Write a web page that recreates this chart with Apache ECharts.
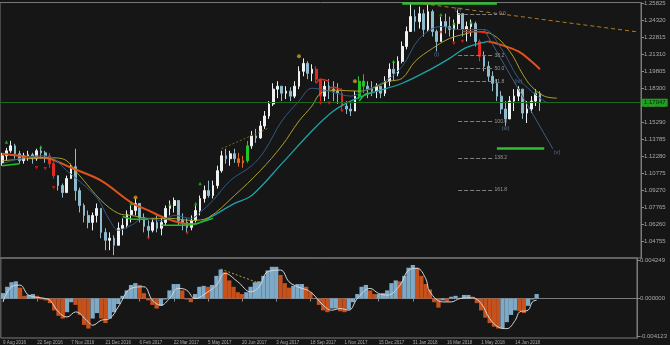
<!DOCTYPE html>
<html><head><meta charset="utf-8">
<script src="https://cdn.jsdelivr.net/npm/echarts@6.0.0/dist/echarts.min.js"></script>
<style>html,body{margin:0;padding:0;background:#161616;}#c{width:670px;height:345px;}</style>
</head><body><div id="c"></div>
<script>
// ---- time axis (one slot = 4 daily bars) ----
const tickLabels = ["9 Aug 2016","22 Sep 2016","7 Nov 2016","21 Dec 2016","6 Feb 2017","22 Mar 2017","5 May 2017","20 Jun 2017","3 Aug 2017","18 Sep 2017","1 Nov 2017","15 Dec 2017","31 Jan 2018","16 Mar 2018","1 May 2018","14 Jun 2018"];
const slotCount = 149;
const labelEvery = 8;

// ---- price candles ----
const openP = [1.1168,1.1230,1.1274,1.1318,1.1248,1.1186,1.1230,1.1239,1.1204,1.1274,
1.1256,1.1230,1.1160,1.1054,1.0966,1.0904,1.1028,1.1133,1.0922,1.0790,
1.0702,1.0640,1.0702,1.0764,1.0552,1.0482,1.0500,1.0438,1.0588,1.0614,
1.0711,1.0746,1.0808,1.0684,1.0605,1.0570,1.0640,1.0588,1.0640,1.0764,
1.0790,1.0834,1.0658,1.0640,1.0596,1.0658,1.0746,1.0852,1.0922,1.0878,
1.0966,1.1098,1.1230,1.1204,1.1248,1.1204,1.1168,1.1186,1.1318,1.1406,
1.1388,1.1494,1.1582,1.1688,1.1820,1.1846,1.1784,1.1802,1.1758,1.1846,
1.1978,1.2048,1.1960,1.1996,1.1908,1.1758,1.1846,1.1820,1.1802,1.1784,
1.1670,1.1644,1.1626,1.1758,1.1890,1.1846,1.1820,1.1802,1.1846,1.1784,
1.1890,1.1996,1.1960,1.2066,1.2198,1.2330,1.2462,1.2418,1.2488,1.2348,
1.2506,1.2330,1.2242,1.2418,1.2374,1.2348,1.2400,1.2488,1.2348,1.2374,
1.2400,1.2242,1.2110,1.2022,1.1934,1.1872,1.1758,1.1644,1.1556,1.1714,
1.1758,1.1820,1.1608,1.1644,1.1714,1.1784];
const closeP = [1.1230,1.1274,1.1318,1.1248,1.1186,1.1230,1.1239,1.1204,1.1274,1.1256,
1.1230,1.1160,1.1054,1.0966,1.0904,1.1028,1.1133,1.0922,1.0790,1.0702,
1.0640,1.0702,1.0764,1.0552,1.0482,1.0500,1.0438,1.0588,1.0614,1.0711,
1.0746,1.0808,1.0684,1.0605,1.0570,1.0640,1.0588,1.0640,1.0764,1.0790,
1.0834,1.0658,1.0640,1.0596,1.0658,1.0746,1.0852,1.0922,1.0878,1.0966,
1.1098,1.1230,1.1204,1.1248,1.1204,1.1168,1.1186,1.1318,1.1406,1.1388,
1.1494,1.1582,1.1688,1.1820,1.1846,1.1784,1.1802,1.1758,1.1846,1.1978,
1.2048,1.1960,1.1996,1.1908,1.1758,1.1846,1.1820,1.1802,1.1784,1.1670,
1.1644,1.1626,1.1758,1.1890,1.1846,1.1820,1.1802,1.1846,1.1784,1.1890,
1.1996,1.1960,1.2066,1.2198,1.2330,1.2462,1.2418,1.2488,1.2348,1.2506,
1.2330,1.2242,1.2418,1.2374,1.2348,1.2400,1.2488,1.2348,1.2374,1.2400,
1.2242,1.2110,1.2022,1.1934,1.1872,1.1758,1.1644,1.1556,1.1714,1.1758,
1.1820,1.1608,1.1644,1.1714,1.1784,1.1705];
const lowP = [1.1142,1.1186,1.1256,1.1204,1.1160,1.1160,1.1186,1.1160,1.1186,1.1204,
1.1168,1.1124,1.1028,1.0922,1.0860,1.0904,1.1028,1.0834,1.0728,1.0640,
1.0588,1.0570,1.0640,1.0500,1.0394,1.0394,1.0350,1.0438,1.0526,1.0588,
1.0640,1.0702,1.0640,1.0552,1.0500,1.0552,1.0552,1.0526,1.0614,1.0702,
1.0728,1.0614,1.0570,1.0552,1.0570,1.0640,1.0702,1.0816,1.0860,1.0852,
1.0940,1.1080,1.1160,1.1142,1.1168,1.1133,1.1124,1.1168,1.1292,1.1344,
1.1380,1.1468,1.1556,1.1670,1.1740,1.1714,1.1732,1.1714,1.1740,1.1820,
1.1934,1.1908,1.1890,1.1872,1.1714,1.1714,1.1732,1.1714,1.1688,1.1626,
1.1600,1.1582,1.1626,1.1732,1.1784,1.1740,1.1758,1.1740,1.1740,1.1758,
1.1846,1.1890,1.1934,1.2048,1.2172,1.2330,1.2330,1.2356,1.2286,1.2330,
1.2286,1.2154,1.2242,1.2312,1.2286,1.2242,1.2348,1.2286,1.2242,1.2286,
1.2198,1.2066,1.1978,1.1890,1.1802,1.1714,1.1600,1.1494,1.1556,1.1626,
1.1714,1.1556,1.1520,1.1608,1.1670,1.1626];
const highP = [1.1256,1.1300,1.1362,1.1336,1.1274,1.1256,1.1274,1.1256,1.1292,1.1309,
1.1274,1.1256,1.1186,1.1054,1.0984,1.1054,1.1160,1.1292,1.0948,1.0808,
1.0746,1.0728,1.0808,1.0764,1.0588,1.0552,1.0526,1.0640,1.0676,1.0746,
1.0790,1.0852,1.0808,1.0720,1.0658,1.0676,1.0702,1.0676,1.0790,1.0834,
1.0860,1.0834,1.0720,1.0676,1.0702,1.0790,1.0878,1.0966,1.1010,1.1010,
1.1142,1.1274,1.1292,1.1274,1.1292,1.1256,1.1230,1.1362,1.1450,1.1468,
1.1538,1.1626,1.1714,1.1872,1.1890,1.1846,1.1846,1.1837,1.1890,1.2022,
1.2092,1.2066,1.2040,1.2022,1.1908,1.1890,1.1908,1.1890,1.1872,1.1828,
1.1714,1.1696,1.1802,1.1934,1.1952,1.1890,1.1890,1.1872,1.1846,1.1934,
1.2048,1.2066,1.2110,1.2242,1.2374,1.2576,1.2524,1.2550,1.2524,1.2568,
1.2524,1.2348,1.2462,1.2488,1.2462,1.2436,1.2524,1.2488,1.2418,1.2436,
1.2418,1.2260,1.2154,1.2066,1.1978,1.1908,1.1802,1.1714,1.1758,1.1820,
1.1846,1.1820,1.1714,1.1758,1.1820,1.1802];
const redBars = [11,12,73,74,79,111];
const greenBars = [57,83,84];
const orangeBars = [55,56];
const bidPrice = 1.17047;

// ---- moving averages [slot, price] ----
const maFast = [[0,1.1160],[4,1.1204],[9,1.1230],[12,1.1204],[15,1.1098],[17,1.1036],[22,1.0860],[25,1.0658],[27,1.0570],[30,1.0614],[33,1.0676],[37,1.0658],[40,1.0702],[44,1.0676],[46,1.0728],[49,1.0834],[53,1.1010],[58,1.1142],[61,1.1274],[65,1.1538],[69,1.1714],[72,1.1828],[76,1.1802],[81,1.1758],[84,1.1802],[89,1.1890],[93,1.2022],[97,1.2268],[102,1.2374],[106,1.2348],[112,1.2348],[116,1.2180],[120,1.1916],[123,1.1802],[126,1.1714],[127,1.1696]];
const maMid = [[0,1.1186],[6,1.1204],[11,1.1212],[14,1.1204],[18,1.1054],[23,1.0834],[27,1.0720],[30,1.0702],[34,1.0676],[39,1.0676],[44,1.0658],[48,1.0684],[54,1.0878],[60,1.1098],[65,1.1318],[69,1.1538],[72,1.1670],[74,1.1784],[77,1.1811],[83,1.1802],[90,1.1890],[93,1.1916],[96,1.2066],[100,1.2180],[104,1.2268],[108,1.2312],[110,1.2330],[114,1.2304],[118,1.2154],[121,1.1952],[123,1.1846],[126,1.1758],[129,1.1740]];
const maSlow = [[0,1.1248],[6,1.1221],[11,1.1204],[16,1.1124],[23,1.1010],[30,1.0816],[34,1.0746],[38,1.0676],[42,1.0632],[45,1.0623],[48,1.0676],[54,1.0808],[58,1.0878],[65,1.1160],[72,1.1450],[77,1.1626],[81,1.1714],[85,1.1776],[93,1.1872],[100,1.2004],[104,1.2092],[108,1.2189],[113,1.2242],[115,1.2224],[120,1.2154],[123,1.2066],[125,1.1996]];
const slowTurnDown = 45, slowTurnUp = 113;
const upSegments = [[[0,1.1142],[4,1.1160]],[[28,1.0693],[31,1.0667],[34,1.0667]],[[37,1.0614],[40,1.0614],[44,1.0622],[49,1.0676]],[[83,1.1714],[85,1.1784],[86,1.1784]]];
const downSegments = [[[73,1.1872],[74,1.1908],[76,1.1890]],[[76,1.1828],[77,1.1837],[79,1.1811]],[[107,1.2330],[110,1.2330],[113,1.2313]]];

// ---- markers [slot, price] ----
const upMarks = [[1,1.1353],[9,1.1309],[30,1.0808],[39,1.0799],[45,1.0808],[46,1.0984],[91,1.2066],[102,1.2480],[105,1.2400],[109,1.2409],[124,1.1793]];
const downMarks = [[8,1.1124],[10,1.1116],[12,1.0948],[34,1.0500],[43,1.0544],[74,1.1696],[76,1.1696],[79,1.1626],[102,1.2321],[105,1.2224],[107,1.2242],[111,1.2154]];
const signalMarks = [[31,1.0860],[69,1.2110],[82,1.1890]];

// ---- wave count, fibonacci, drawn levels ----
const waveNames = ["(i)","(ii)","(iii)","(iv)","(v)"];
const waveSlots = [101,106,117,120,129];
const wavePrices = [1.2128,1.2524,1.1476,1.1890,1.1256];
const fibLabels = ["0.0","38.2","50.0","61.8","100.0","138.2","161.8"];
const fibPrices = [1.2486,1.2119,1.2004,1.1887,1.1532,1.1210,1.0928];
const fibFrom = 106, fibTo = 114;
const greenFrom = [93,115], greenTo = [115,126], greenPrice = [1.2579,1.1294];
const trendSlots = [98,148], trendPrices = [1.2575,1.2325];
const channelLine = [[112,1.2348],[128,1.1292]];
const priceTrend = [[51,1.1292],[62,1.1476]];

// ---- oscillator ----
const oscHist = [0.0006,0.0013,0.0018,0.0019,0.0012,0.0003,0.0004,0.0005,0.0003,-0.0001,
-0.0002,-0.0005,-0.0013,-0.0019,-0.0022,-0.0015,-0.0004,-0.0007,-0.0018,-0.0029,
-0.0033,-0.0022,-0.0016,-0.0022,-0.0027,-0.0022,-0.0015,-0.0006,0.0003,0.0009,
0.0015,0.0017,0.0015,0.0006,-0.0002,-0.0007,-0.0011,-0.0008,-0.0001,0.0009,
0.0016,0.0016,0.0009,-0.0001,-0.0004,0.0005,0.0013,0.0014,0.0013,0.0015,
0.0025,0.0032,0.0029,0.0020,0.0013,0.0007,0.0005,0.0007,0.0013,0.0018,
0.0019,0.0025,0.0031,0.0035,0.0035,0.0026,0.0017,0.0012,0.0014,0.0016,
0.0016,0.0013,0.0007,0.0000,-0.0007,-0.0013,-0.0015,-0.0011,-0.0011,-0.0014,
-0.0015,-0.0012,-0.0004,0.0005,0.0013,0.0015,0.0009,0.0005,0.0005,0.0006,
0.0009,0.0017,0.0020,0.0019,0.0025,0.0034,0.0037,0.0034,0.0025,0.0016,
0.0010,-0.0004,-0.0010,-0.0002,-0.0003,0.0002,0.0003,0.0001,0.0004,0.0004,
0.0002,-0.0005,-0.0013,-0.0021,-0.0027,-0.0031,-0.0033,-0.0033,-0.0026,-0.0018,
-0.0013,-0.0014,-0.0016,-0.0008,-0.0001,0.0005];
const oscSignal = [[0,-0.00037],[2,0.0013],[4,0.00148],[6,0.00038],[10,0.0],[11,-0.00018],[13,-0.00147],[15,-0.00203],[17,-0.00147],[20,-0.00258],[21,-0.00294],[23,-0.00239],[25,-0.0022],[27,-0.00092],[30,0.00112],[33,0.0013],[35,-0.00018],[37,-0.00073],[39,0.0],[41,0.00112],[43,0.00093],[45,0.0],[48,0.00074],[50,0.00148],[52,0.00278],[55,0.00185],[58,0.00074],[60,0.0013],[62,0.00296],[65,0.00314],[67,0.00185],[69,0.0013],[72,0.00074],[75,-0.00073],[77,-0.00128],[79,-0.0011],[81,-0.00128],[83,0.0],[86,0.00112],[88,0.00056],[90,0.00038],[93,0.00148],[95,0.00314],[97,0.00333],[99,0.00222],[100,0.00074],[103,-0.00037],[105,-0.00037],[107,0.0],[110,0.00008],[112,-0.00054],[114,-0.0022],[116,-0.00313],[118,-0.00331],[120,-0.00239],[121,-0.00147],[123,-0.00128],[124,-0.00037],[125,-0.00018]];
const oscTrend = [[51,0.00325],[60,0.0017]];
const oscLabelValues = [-0.004123, 0, 0.004249];

// ---- axis ranges ----
const priceMin = 1.0325, priceMax = 1.25866, priceStep = 0.01505;
const oscMin = -0.004343, oscMax = 0.004469;

// =====================================================
const FONT = 'Liberation Sans';
const cats = [];
for (let i = 0; i < slotCount; i++) {
  const li = i / labelEvery;
  cats.push(i % labelEvery === 0 && li < tickLabels.length ? tickLabels[li] : 's' + i);
}
const showTick = (idx) => idx % labelEvery === 0 && idx / labelEvery < tickLabels.length;

const candleData = openP.map((o, i) => {
  const item = { value: [o, closeP[i], lowP[i], highP[i]] };
  let col = null;
  if (redBars.includes(i)) col = '#e22a1e';
  else if (greenBars.includes(i)) col = '#24c424';
  else if (orangeBars.includes(i)) col = '#e2661e';
  if (col) item.itemStyle = { color: col, color0: col, borderColor: col, borderColor0: col };
  return item;
});

const markData = [];
markData.push({ yAxis: bidPrice, lineStyle: { color: '#1e6a1e', type: 'solid', width: 1 },
  label: { show: true, position: 'end', distance: 1, formatter: bidPrice.toFixed(5), backgroundColor: '#1f9f1f', color: '#0c1f0c', fontSize: 6, fontFamily: FONT, padding: [1, 2, 1, 2] } });
fibPrices.forEach((p, i) => {
  markData.push([
    { coord: [fibFrom, p], lineStyle: { color: '#808080', type: [4, 2], width: 1 },
      label: { show: true, position: 'end', distance: 2, formatter: fibLabels[i], color: '#9a9a9a', fontSize: 5, fontFamily: FONT } },
    { coord: [i === 0 ? fibTo + 1 : fibTo, p] }
  ]);
});
greenPrice.forEach((p, i) => {
  markData.push([
    { coord: [greenFrom[i], p], lineStyle: { color: '#2fbf2f', type: 'solid', width: 2.5 }, label: { show: false } },
    { coord: [greenTo[i], p] }
  ]);
});
markData.push([
  { coord: [trendSlots[0], trendPrices[0]], lineStyle: { color: '#b87a1a', type: [4, 3], width: 1 }, label: { show: false } },
  { coord: [trendSlots[1], trendPrices[1]] }
]);

const series = [];
series.push({
  type: 'candlestick', xAxisIndex: 0, yAxisIndex: 0, data: candleData,
  barWidth: 2.2,
  itemStyle: { color: '#eef2f2', color0: '#8fbccc', borderColor: '#eef2f2', borderColor0: '#8fbccc', borderWidth: 1 },
  markLine: { silent: true, symbol: ['none', 'none'], animation: false, data: markData }
});
const lineBase = { type: 'line', xAxisIndex: 0, yAxisIndex: 0, showSymbol: false, symbol: 'none', silent: true, smooth: 0.35 };
// slow MA: orange while falling, teal while rising
const slowFall1 = maSlow.filter(p => p[0] <= slowTurnDown);
const slowRise = maSlow.filter(p => p[0] >= slowTurnDown && p[0] <= slowTurnUp);
const slowFall2 = maSlow.filter(p => p[0] >= slowTurnUp);
series.push(Object.assign({}, lineBase, { data: slowRise, lineStyle: { width: 1.3, color: '#1fa2a8' }, z: 3 }));
series.push(Object.assign({}, lineBase, { data: slowFall1, lineStyle: { width: 2, color: '#e0521d' }, z: 3 }));
series.push(Object.assign({}, lineBase, { data: slowFall2, lineStyle: { width: 2, color: '#e0521d' }, z: 3 }));
series.push(Object.assign({}, lineBase, { data: maMid, lineStyle: { width: 1, color: '#a8a02e' }, z: 3 }));
series.push(Object.assign({}, lineBase, { data: maFast, lineStyle: { width: 1, color: '#2f5a80' }, z: 3 }));
upSegments.forEach(seg => series.push(Object.assign({}, lineBase, { data: seg, lineStyle: { width: 1.5, color: '#22c022' }, z: 4 })));
downSegments.forEach(seg => series.push(Object.assign({}, lineBase, { data: seg, lineStyle: { width: 1.5, color: '#e02a1a' }, z: 4 })));
series.push(Object.assign({}, lineBase, { smooth: false, data: channelLine, lineStyle: { width: 1, color: '#3d5f82' }, z: 3 }));
series.push(Object.assign({}, lineBase, { smooth: false, data: priceTrend, lineStyle: { width: 1, color: '#6f6a28', type: [2, 2] }, z: 3 }));
series.push({ type: 'scatter', xAxisIndex: 0, yAxisIndex: 0, data: upMarks, symbol: 'triangle', symbolSize: 3.5, itemStyle: { color: '#1fc21f' }, silent: true, z: 5 });
series.push({ type: 'scatter', xAxisIndex: 0, yAxisIndex: 0, data: downMarks, symbol: 'triangle', symbolRotate: 180, symbolSize: 3.5, itemStyle: { color: '#e0221a' }, silent: true, z: 5 });
series.push({ type: 'scatter', xAxisIndex: 0, yAxisIndex: 0, data: signalMarks, symbol: 'circle', symbolSize: 4, itemStyle: { color: '#c9a01e' }, silent: true, z: 5 });
series.push({ type: 'scatter', xAxisIndex: 0, yAxisIndex: 0, symbolSize: 0, silent: true, z: 6,
  data: waveNames.map((n, i) => ({ name: n, value: [waveSlots[i], wavePrices[i]] })),
  label: { show: true, position: 'inside', formatter: p => p.name, color: '#5a86b4', fontSize: 6, fontFamily: FONT } });

// oscillator
series.push({ type: 'bar', xAxisIndex: 1, yAxisIndex: 1, data: oscHist, barCategoryGap: '0%', silent: true,
  itemStyle: { color: p => { const i = p.dataIndex; const prev = i > 0 ? oscHist[i - 1] : oscHist[i]; return oscHist[i] >= prev ? '#7ea9c7' : '#c5511d'; } } });
series.push({ type: 'line', xAxisIndex: 1, yAxisIndex: 1, data: oscSignal, smooth: 0.4, showSymbol: false, symbol: 'none', silent: true, lineStyle: { color: '#d6d6d6', width: 1 }, z: 4 });
series.push({ type: 'line', xAxisIndex: 1, yAxisIndex: 1, data: oscTrend, showSymbol: false, symbol: 'none', silent: true, lineStyle: { color: '#b5a23a', width: 1, type: [2, 2] }, z: 4 });

const axisTxt = { color: '#a8a8a8', fontSize: 6, fontFamily: FONT };
const option = {
  backgroundColor: '#161616',
  animation: false,
  grid: [
    { left: -1, right: 29, top: 1, height: 257, show: true, borderColor: '#7a7a7a', borderWidth: 1, backgroundColor: 'transparent' },
    { left: -1, right: 29, top: 258, height: 80, show: true, borderColor: '#7a7a7a', borderWidth: 1, backgroundColor: 'transparent' }
  ],
  xAxis: [
    { type: 'category', gridIndex: 0, data: cats, boundaryGap: true, axisLine: { show: false }, axisTick: { show: false }, axisLabel: { show: false }, splitLine: { show: false } },
    { type: 'category', gridIndex: 1, data: cats, boundaryGap: true,
      axisLine: { show: true, lineStyle: { color: '#7a7a7a' } },
      axisTick: { show: true, alignWithLabel: true, interval: showTick, length: 3, lineStyle: { color: '#8a8a8a' } },
      axisLabel: { show: true, interval: showTick, align: 'left', margin: 2, formatter: v => v, color: '#a8a8a8', fontSize: 4.5, fontFamily: FONT },
      splitLine: { show: false } }
  ],
  yAxis: [
    { type: 'value', gridIndex: 0, position: 'right', min: priceMin, max: priceMax, interval: priceStep,
      axisLine: { show: true, lineStyle: { color: '#7a7a7a' } },
      axisTick: { show: true, length: 3, lineStyle: { color: '#8a8a8a' } },
      axisLabel: Object.assign({ show: true, margin: 3, formatter: v => v.toFixed(5), showMinLabel: false, showMaxLabel: false }, axisTxt),
      splitLine: { show: false } },
    { type: 'value', gridIndex: 1, position: 'right', min: oscMin, max: oscMax,
      axisLine: { show: true, lineStyle: { color: '#7a7a7a' } },
      axisTick: { show: true, length: 3, customValues: oscLabelValues, lineStyle: { color: '#8a8a8a' } },
      axisLabel: Object.assign({ show: true, margin: 3, customValues: oscLabelValues, formatter: v => v.toFixed(6) }, axisTxt),
      splitLine: { show: false } }
  ],
  series: series
};
const chart = echarts.init(document.getElementById('c'), null, { renderer: 'canvas' });
chart.setOption(option);
</script>
</body></html>
